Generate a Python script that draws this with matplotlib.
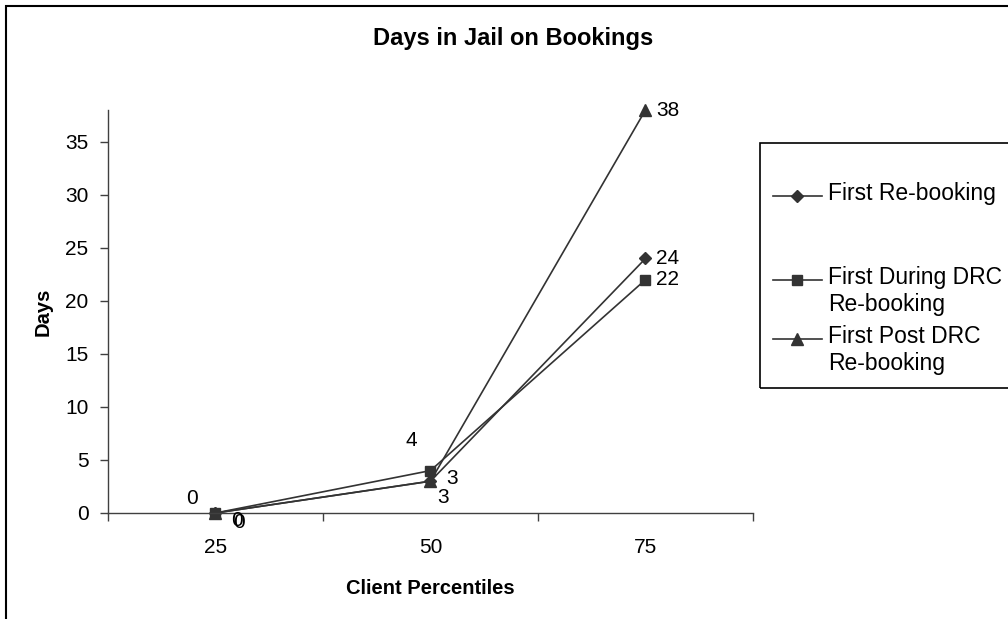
import matplotlib.pyplot as plt
from matplotlib.lines import Line2D
from matplotlib.patches import Rectangle

plt.rcParams['font.family'] = ['Liberation Sans', 'DejaVu Sans']

# Data
percentiles = ['25', '50', '75']
first_rebooking = [0, 3, 24]
first_during_drc = [0, 4, 22]
first_post_drc = [0, 3, 38]

series_names = ['First Re-booking', 'First During DRC\nRe-booking', 'First Post DRC\nRe-booking']
series_values = [first_rebooking, first_during_drc, first_post_drc]
series_markers = ['D', 's', '^']
marker_sizes = [6, 7, 8]

# label offsets in pixels (dx, dy) for each point, per series
label_offsets = [
    [(24, -10), (22, 3), (22, 0)],
    [(-23, 14), (-19, 30), (22, 0)],
    [(22, -7), (13, -16), (22, 0)],
]

line_color = '#333333'

W, H = 1008, 619
fig = plt.figure(figsize=(W / 100, H / 100), dpi=100)
ax = fig.add_axes([108 / W, 1 - 513 / H, (753 - 108) / W, (513 - 110) / H])

x = list(range(len(percentiles)))
for vals, name, mk, ms, offs in zip(series_values, series_names, series_markers,
                                    marker_sizes, label_offsets):
    ax.plot(x, vals, color=line_color, lw=1.2, marker=mk, markersize=ms,
            markerfacecolor=line_color, markeredgecolor=line_color, clip_on=False)
    for xi, v, (dx, dy) in zip(x, vals, offs):
        ax.annotate(str(v), (xi, v), xytext=(dx, dy), textcoords='offset pixels',
                    ha='center', va='center', fontsize=15, annotation_clip=False)

ax.set_xlim(-0.5, len(percentiles) - 0.5)
ax.set_ylim(0, 38)
ax.set_yticks(range(0, 36, 5))
ax.set_xticks(x)
ax.set_xticklabels(percentiles)
ax.set_xticks([i - 0.5 for i in range(len(percentiles) + 1)], minor=True)
ax.tick_params(axis='x', which='major', length=0, pad=18, labelsize=15)
ax.tick_params(axis='x', which='minor', length=6, width=1, color='#404040', direction='out')
ax.tick_params(axis='y', length=6, width=1, color='#404040', pad=8, labelsize=15)

for side in ['top', 'right']:
    ax.spines[side].set_visible(False)
for side in ['left', 'bottom']:
    ax.spines[side].set_color('#404040')
    ax.spines[side].set_linewidth(1)

ax.set_xlabel('Client Percentiles', fontsize=14.5, fontweight='bold', labelpad=16)
ax.set_ylabel('Days', fontsize=14.5, fontweight='bold', labelpad=9)
fig.text(513 / W, 1 - 38 / H, 'Days in Jail on Bookings', ha='center', va='center',
         fontsize=17, fontweight='bold')

# outer chart border (cropped on the right and bottom)
fig.patches.append(Rectangle((6 / W, -0.05), 1.1, 1 - 6 / H + 0.05, transform=fig.transFigure,
                             fill=False, edgecolor='black', lw=1.5, clip_on=False))

# legend box
fig.patches.append(Rectangle((760 / W, 1 - 388 / H), 0.3, (388 - 143) / H,
                             transform=fig.transFigure, fill=False,
                             edgecolor='black', lw=1.2, clip_on=False))
legend_rows = [196, 280, 339]
for name, mk, ms, row in zip(series_names, series_markers, marker_sizes, legend_rows):
    yy = 1 - row / H
    fig.add_artist(Line2D([773 / W, 822 / W], [yy, yy], transform=fig.transFigure,
                          color=line_color, lw=1.2))
    fig.add_artist(Line2D([797 / W], [yy], transform=fig.transFigure, marker=mk,
                          markersize=ms, color=line_color))
    fig.text(828 / W, yy + 14 / H, name, ha='left', va='top', fontsize=16.5,
             linespacing=1.2)

fig.savefig('out.png', dpi=100)
